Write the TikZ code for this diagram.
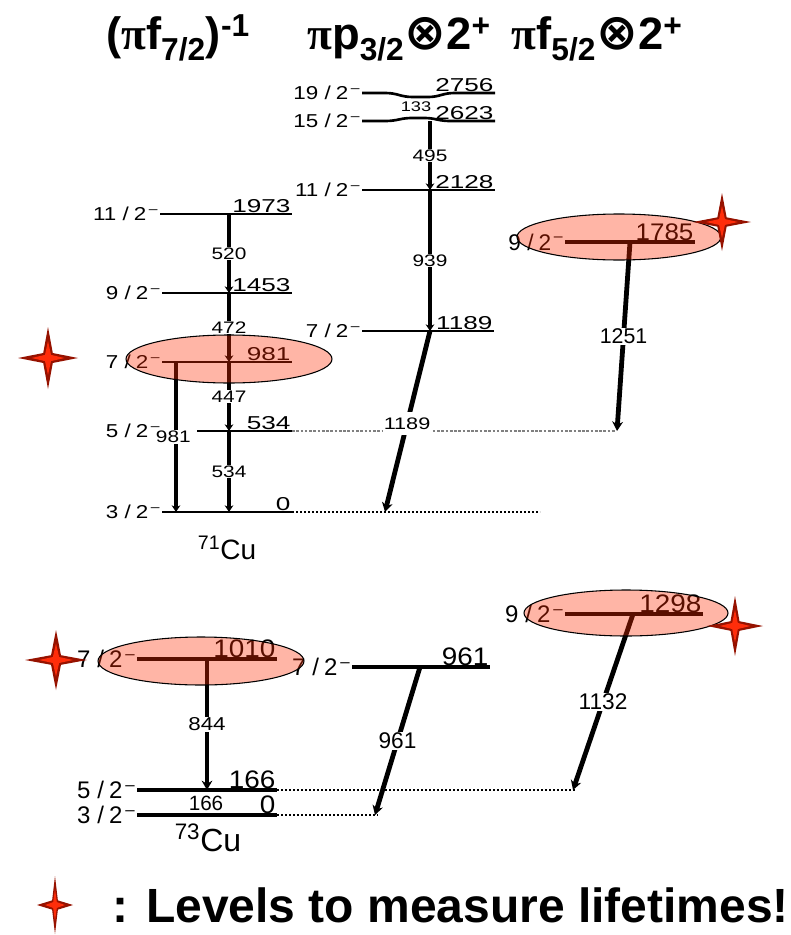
\documentclass[tikz,border=0pt]{standalone}
\usepackage{fontspec}
\setmainfont{Liberation Sans}
\newfontfamily\symf{DejaVu Sans}
\newfontfamily\piff{Liberation Serif}
\usepackage{graphicx}
\usetikzlibrary{arrows.meta}
\definecolor{stardark}{RGB}{150,18,0}
\definecolor{starlight}{RGB}{255,45,10}
\definecolor{hotred}{RGB}{255,43,0}
\newcommand\hs[2]{\scalebox{#1}[1]{#2}}
\newcommand\jp[2]{#1\hspace{0.28em}/\hspace{0.22em}#2\textsuperscript{\,–}}
\newcommand\pisym{{\piff π}}
\tikzset{
  lev/.style={line width=2pt},
  levB/.style={line width=2.4pt},
  tr/.style={line width=3.2pt,-{Stealth[length=5pt,width=6.5pt]}},
  trB/.style={line width=3.6pt,-{Stealth[length=7pt,width=8pt]}},
  tlab/.style={fill=white,inner sep=0.8pt,font=\fontsize{12.5}{12.5}\selectfont},
  tlabB/.style={fill=white,inner sep=1pt,font=\fontsize{17}{17}\selectfont},
  enU/.style={anchor=south east,inner sep=1pt,font=\fontsize{14}{14}\selectfont},
  enB/.style={anchor=south east,inner sep=1pt,font=\fontsize{19}{19}\selectfont},
  spU/.style={anchor=base east,inner sep=1pt,font=\fontsize{14}{14}\selectfont},
  spB/.style={anchor=base east,inner sep=1pt,font=\fontsize{18}{18}\selectfont},
  hot/.style={draw=black,line width=0.8pt,fill=hotred,fill opacity=0.35},
  dotg/.style={draw=gray,line width=0.8pt,dash pattern=on 2pt off 1.2pt},
  dotk/.style={draw=black,line width=0.9pt,dash pattern=on 1.8pt off 1.2pt},
  head/.style={anchor=base,inner sep=0pt,font=\fontsize{34}{34}\selectfont\bfseries},
  pics/lstar/.style 2 args={code={
    \fill[stardark] (0,-#2) -- (0.16*#1,-0.16*#2) -- (#1,0) -- (0.16*#1,0.16*#2) -- (0,#2) -- (-0.16*#1,0.16*#2) -- (-#1,0) -- (-0.16*#1,-0.16*#2) -- cycle;
    \fill[starlight] (0,-0.55*#2) -- (0.1*#1,-0.1*#2) -- (0.55*#1,0) -- (0.1*#1,0.1*#2) -- (0,0.55*#2) -- (-0.1*#1,0.1*#2) -- (-0.55*#1,0) -- (-0.1*#1,-0.1*#2) -- cycle;
  }}
}
\begin{document}
\begin{tikzpicture}[x=0.75pt,y=-0.75pt]
\useasboundingbox (0,0) rectangle (790,935);
% ---------- header
\node[head] (h1) at (178,49) {(\pisym f\textsubscript{7/2})\textsuperscript{-1}};
\node[head] (h2) at (399,49) {\pisym p\textsubscript{3/2}{\symf\scalebox{1.1}{⊗}}2\textsuperscript{+}};
\node[head] (h3) at (597,49) {\pisym f\textsubscript{5/2}{\symf\scalebox{1.1}{⊗}}2\textsuperscript{+}};
% ---------- coordinates, 71Cu
\coordinate (a1973L) at (160,214); \coordinate (a1973R) at (292,214);
\coordinate (a1453L) at (162,293); \coordinate (a1453R) at (292,293);
\coordinate (a981L) at (162,362);  \coordinate (a981R) at (292,362);
\coordinate (a534L) at (197,431);  \coordinate (a534R) at (292,431);
\coordinate (a0L) at (162,512);    \coordinate (a0R) at (292,512);
\coordinate (t1973) at (229,214); \coordinate (t1453) at (229,293);
\coordinate (t981) at (229,362);  \coordinate (t534) at (229,431);
\coordinate (t0) at (229,512);
\coordinate (t981b) at (176,362); \coordinate (t0b) at (176,512);
\coordinate (b2756L) at (362,93);  \coordinate (b2756R) at (495,93);
\coordinate (b2623L) at (362,121); \coordinate (b2623R) at (495,121);
\coordinate (b2128L) at (362,190); \coordinate (b2128R) at (495,190);
\coordinate (b1189L) at (362,331); \coordinate (b1189R) at (494,331);
\coordinate (t2623) at (430,121); \coordinate (t2128) at (430,190);
\coordinate (t1189) at (430,331); \coordinate (t1189e) at (385,512);
\coordinate (c1785L) at (565,242); \coordinate (c1785R) at (695,242);
\coordinate (t1785) at (630,242); \coordinate (t1785e) at (617,431);
\coordinate (c534E) at (615,431); \coordinate (a0E) at (540,512);
% ---------- coordinates, 73Cu
\coordinate (d1010L) at (137,659); \coordinate (d1010R) at (277,659);
\coordinate (d166L) at (137,790);  \coordinate (d166R) at (277,790);
\coordinate (d0L) at (137,815);    \coordinate (d0R) at (277,815);
\coordinate (t1010) at (207,659);  \coordinate (t166) at (207,790);
\coordinate (e961L) at (352,667);  \coordinate (e961R) at (490,667);
\coordinate (t961) at (420,667);   \coordinate (t961e) at (375,815);
\coordinate (f1298L) at (565,614); \coordinate (f1298R) at (703,614);
\coordinate (t1298) at (633,614);  \coordinate (t1298e) at (573,790);
\coordinate (d166E) at (575,790);  \coordinate (d0E) at (378,815);
% ---------- dotted continuation lines
\draw[dotg] (a534R) -- (c534E);
\draw[dotk] (a0R) -- (a0E);
\draw[dotk] (d166R) -- (d166E);
\draw[dotk] (d0R) -- (d0E);
% ---------- level lines
\draw[lev] (a1973L) -- (a1973R);
\draw[lev] (a1453L) -- (a1453R);
\draw[lev] (a981L) -- (a981R);
\draw[lev] (a534L) -- (a534R);
\draw[lev] (a0L) -- (a0R);
\draw[lev] (b2756L) -- (385,93) .. controls (398,93) and (400,97) .. (413,97) -- (428,97) .. controls (440,97) and (442,93) .. (455,93) -- (b2756R);
\draw[lev] (b2623L) -- (385,121) .. controls (398,121) and (400,118) .. (412,118) -- (424,118) .. controls (436,118) and (438,121) .. (450,121) -- (b2623R);
\draw[lev] (b2128L) -- (b2128R);
\draw[lev] (b1189L) -- (b1189R);
\draw[levB] (c1785L) -- (c1785R);
\draw[levB] (d1010L) -- (d1010R);
\draw[levB] (d166L) -- (d166R);
\draw[levB] (d0L) -- (d0R);
\draw[levB] (e961L) -- (e961R);
\draw[levB] (f1298L) -- (f1298R);
% ---------- transitions
\draw[tr] (t1973) -- node[tlab] (g520) {\hs{1.25}{520}} (t1453);
\draw[tr] (t1453) -- node[tlab] (g472) {\hs{1.25}{472}} (t981);
\draw[tr] (t981) -- node[tlab] (g447) {\hs{1.25}{447}} (t534);
\draw[tr] (t534) -- node[tlab] (g534) {\hs{1.25}{534}} (t0);
\draw[tr] (t981b) -- node[tlab,xshift=-2pt] (g981) {\hs{1.25}{981}} (t0b);
\draw[tr] (t2623) -- node[tlab] (g495) {\hs{1.25}{495}} (t2128);
\draw[tr] (t2128) -- node[tlab] (g939) {\hs{1.25}{939}} (t1189);
\draw[trB] (t1189) -- node[tlab,inner ysep=4pt,pos=0.51] (g1189) {\hs{1.3}{1189}} (t1189e);
\draw[trB] (t1785) -- node[tlab,font=\fontsize{16}{16}\selectfont] (g1251) {1251} (t1785e);
\node[font=\fontsize{10.5}{10.5}\selectfont,inner sep=0pt] (g133) at (416,107) {\hs{1.3}{133}};
\draw[trB] (t1010) -- node[tlab,font=\fontsize{14}{14}\selectfont] (g844) {\hs{1.2}{844}} (t166);
\draw[trB] (t961) -- node[tlabB] (g961) {961} (t961e);
\draw[trB] (t1298) -- node[tlabB] (g1132) {1132} (t1298e);
\node[fill=white,inner sep=1pt,font=\fontsize{15.5}{15.5}\selectfont] (g166) at (206,803) {166};
% ---------- energies
\node[enU] (n1973) at (a1973R) {\hs{1.4}{1973}};
\node[enU] (n1453) at (a1453R) {\hs{1.4}{1453}};
\node[enU] (n981) at (a981R) {\hs{1.4}{981}};
\node[enU] (n534) at (a534R) {\hs{1.4}{534}};
\node[enU] (n0) at (a0R) {\hs{1.4}{0}};
\node[enU] (n2756) at (b2756R) {\hs{1.4}{2756}};
\node[enU] (n2623) at (b2623R) {\hs{1.4}{2623}};
\node[enU] (n2128) at (b2128R) {\hs{1.4}{2128}};
\node[enU] (n1189) at (b1189R) {\hs{1.4}{1189}};
\node[enU,font=\fontsize{18}{18}\selectfont] (n1785) at (c1785R) {\hs{1.08}{1785}};
\node[enB] (n1010) at (d1010R) {\hs{1.1}{1010}};
\node[enB] (n166) at (d166R) {\hs{1.1}{166}};
\node[enB] (n0b) at (d0R) {\hs{1.1}{0}};
\node[enB] (n961) at (e961R) {\hs{1.1}{961}};
\node[enB] (n1298) at (f1298R) {\hs{1.1}{1298}};
% ---------- spins
\node[spU] (s1973) at (160,220.7) {\hs{1.2}{\jp{11}{2}}};
\node[spU] (s1453) at (162,299.7) {\hs{1.2}{\jp{9}{2}}};
\node[spU] (s981) at (162,368.7) {\hs{1.2}{\jp{7}{2}}};
\node[spU] (s534) at (162,437.7) {\hs{1.2}{\jp{5}{2}}};
\node[spU] (s0) at (162,518.7) {\hs{1.2}{\jp{3}{2}}};
\node[spU] (s2756) at (362,99.7) {\hs{1.2}{\jp{19}{2}}};
\node[spU] (s2623) at (362,127.7) {\hs{1.2}{\jp{15}{2}}};
\node[spU] (s2128) at (362,196.7) {\hs{1.2}{\jp{11}{2}}};
\node[spU] (s1189) at (362,337.7) {\hs{1.2}{\jp{7}{2}}};
\node[spU,font=\fontsize{17}{17}\selectfont] (s1785) at (565,250) {\jp{9}{2}};
\node[spB] (s1010) at (137,667.6) {\jp{7}{2}};
\node[spB] (s166) at (137,798.6) {\jp{5}{2}};
\node[spB] (s0b) at (137,823.6) {\jp{3}{2}};
\node[spB] (s961) at (352,675.6) {\jp{7}{2}};
\node[spB] (s1298) at (565,622.6) {\jp{9}{2}};
% ---------- nucleus labels
\node[font=\fontsize{21}{21}\selectfont] (cu71) at (227,548) {\textsuperscript{71}Cu};
\node[font=\fontsize{24}{24}\selectfont] (cu73) at (208,838) {\textsuperscript{73}Cu};
% ---------- highlighted levels
\draw[hot] (229,359) ellipse [x radius=103, y radius=24];
\draw[hot] (619,237) ellipse [x radius=102, y radius=23];
\draw[hot] (201,661) ellipse [x radius=103, y radius=24];
\draw[hot] (626,613) ellipse [x radius=102, y radius=23];
% ---------- stars
\pic at (48,358) {lstar={30}{31}};
\pic at (722,222) {lstar={29}{29}};
\pic at (56,660) {lstar={31}{30}};
\pic at (735,626) {lstar={28}{30}};
\pic at (55,905) {lstar={18}{29}};
% ---------- legend
\node[anchor=west,inner sep=0pt,font=\fontsize{36}{36}\selectfont\bfseries] (legend) at (112,905) {: Levels to measure lifetimes!};
\end{tikzpicture}
\end{document}
